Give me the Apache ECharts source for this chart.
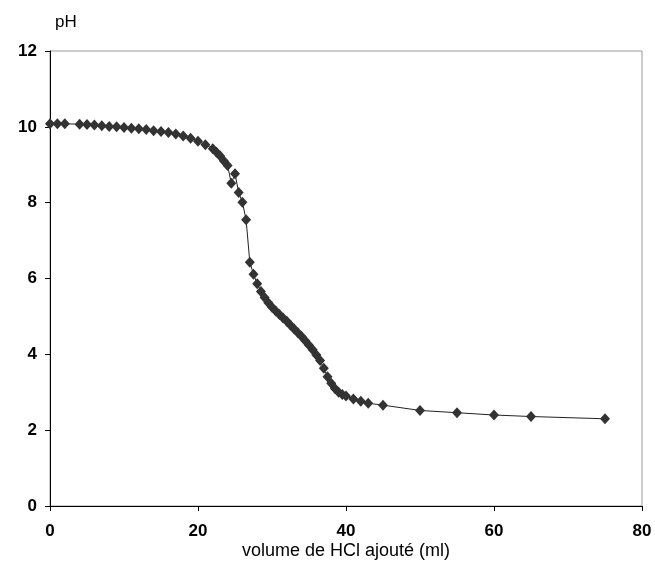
<!DOCTYPE html>
<html>
<head>
<meta charset="utf-8">
<script src="https://cdn.jsdelivr.net/npm/echarts@6/dist/echarts.min.js"></script>
<style>html,body{margin:0;padding:0;background:#fff}#c{width:655px;height:583px}</style>
</head>
<body>
<div id="c"></div>
<script>
var volumes = [0,1,2,4,5,6,7,8,9,10,11,12,13,14,15,16,17,18,19,20,21,22,22.5,23,23.5,24,24.5,25,25.5,26,26.5,27,27.5,28,28.5,29,29.5,30,30.5,31,31.5,32,32.5,33,33.5,34,34.5,35,35.5,36,36.5,37,37.5,38,38.5,39,39.5,40,41,42,43,45,50,55,60,65,75];
var phValues = [10.08,10.08,10.08,10.07,10.06,10.05,10.03,10.01,10.0,9.98,9.96,9.95,9.93,9.9,9.88,9.85,9.81,9.76,9.7,9.62,9.53,9.42,9.33,9.23,9.1,8.98,8.51,8.76,8.27,8.01,7.55,6.43,6.11,5.86,5.66,5.5,5.36,5.24,5.14,5.05,4.96,4.87,4.77,4.67,4.57,4.47,4.36,4.24,4.12,3.98,3.84,3.63,3.41,3.24,3.1,3.0,2.94,2.9,2.82,2.76,2.71,2.66,2.52,2.46,2.4,2.36,2.3];
var xTicks = [0,20,40,60,80];
var yTicks = [0,2,4,6,8,10,12];
var xName = 'volume de HCl ajouté (ml)';
var yName = 'pH';

var data = volumes.map(function(v,i){return [v, phValues[i]];});
var chart = echarts.init(document.getElementById('c'));
chart.setOption({
  animation:false,
  backgroundColor:'#fff',
  grid:{left:50,right:13,top:51,bottom:77,show:true,borderColor:'#999',borderWidth:1,backgroundColor:'transparent'},
  graphic:[{type:'text',left:55,top:14,style:{text:yName,font:'17px "Liberation Sans", Arial, sans-serif',fill:'#000'}}],
  xAxis:{type:'value',min:xTicks[0],max:xTicks[xTicks.length-1],interval:20,
    name:xName,nameLocation:'middle',nameGap:36,nameMoveOverlap:false,
    nameTextStyle:{fontFamily:'"Liberation Sans", Arial, sans-serif',fontSize:18,color:'#000'},
    axisLine:{lineStyle:{color:'#000',width:1}},
    axisTick:{show:true,length:5,inside:false,lineStyle:{color:'#000'}},
    axisLabel:{fontFamily:'"Liberation Sans", Arial, sans-serif',fontSize:17,fontWeight:'bold',color:'#000',margin:17},
    splitLine:{show:false}},
  yAxis:{type:'value',min:yTicks[0],max:yTicks[yTicks.length-1],interval:2,
    axisLine:{show:true,lineStyle:{color:'#000',width:1}},
    axisTick:{show:true,length:5,inside:false,lineStyle:{color:'#000'}},
    axisLabel:{fontFamily:'"Liberation Sans", Arial, sans-serif',fontSize:17,fontWeight:'bold',color:'#000',margin:13},
    splitLine:{show:false}},
  series:[{type:'line',data:data,symbol:'diamond',symbolSize:[10,11],showSymbol:true,
    itemStyle:{color:'#333'},lineStyle:{color:'#222',width:1},z:3}]
});
</script>
</body>
</html>
